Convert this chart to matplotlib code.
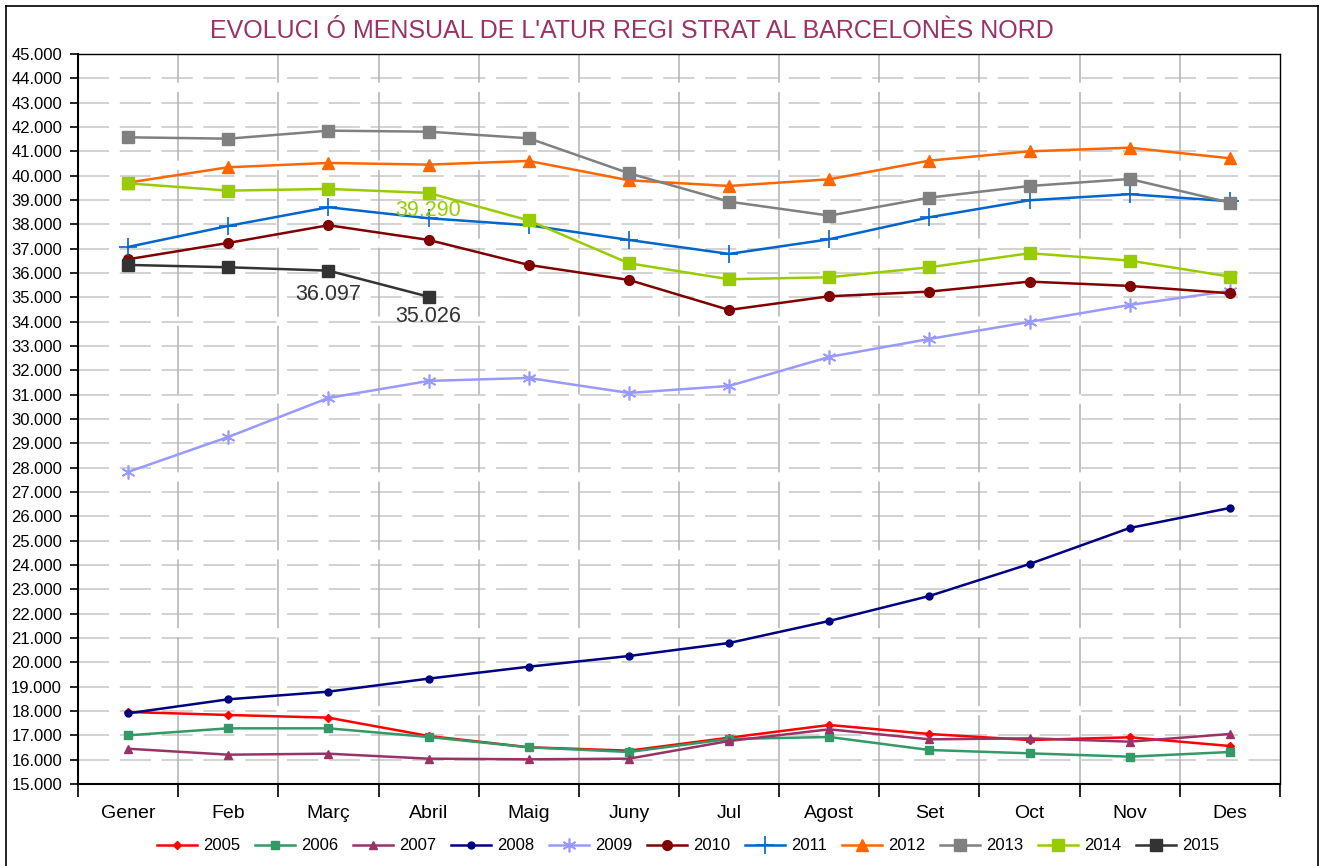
import matplotlib
matplotlib.use("Agg")
import matplotlib.pyplot as plt
from matplotlib.ticker import FixedLocator, FuncFormatter
from matplotlib.lines import Line2D

plt.rcParams['font.family'] = ['Liberation Sans', 'DejaVu Sans']

months = ["Gener", "Feb", "Març", "Abril", "Maig", "Juny",
          "Jul", "Agost", "Set", "Oct", "Nov", "Des"]

y2005 = [17960, 17836, 17726, 16973, 16510, 16370, 16903, 17425, 17055, 16808, 16919, 16562]
y2006 = [17000, 17288, 17288, 16932, 16508, 16315, 16850, 16932, 16397, 16260, 16123, 16315]
y2007 = [16450, 16205, 16245, 16041, 16014, 16041, 16767, 17247, 16836, 16877, 16740, 17055]
y2008 = [17905, 18480, 18795, 19330, 19820, 20260, 20795, 21700, 22727, 24042, 25522, 26344]
y2009 = [27824, 29262, 30865, 31564, 31687, 31070, 31358, 32550, 33290, 33990, 34687, 35263]
y2010 = [36565, 37236, 37963, 37359, 36332, 35715, 34482, 35044, 35235, 35646, 35469, 35168]
y2011 = [37071, 37934, 38702, 38250, 37963, 37359, 36784, 37387, 38291, 38990, 39237, 38949]
y2012 = [39714, 40345, 40523, 40454, 40605, 39810, 39576, 39851, 40618, 41000, 41150, 40714]
y2013 = [41577, 41520, 41849, 41808, 41536, 40100, 38933, 38358, 39098, 39576, 39864, 38892]
y2014 = [39686, 39385, 39455, 39290, 38160, 36400, 35743, 35825, 36236, 36812, 36510, 35851]
y2015 = [36332, 36236, 36097, 35026]

# year, values, colour, marker, marker size
series = [
    ("2005", y2005, "#FF0000", "D", 4.5),
    ("2006", y2006, "#339966", "s", 5.5),
    ("2007", y2007, "#993366", "^", 6),
    ("2008", y2008, "#000080", "o", 5),
    ("2009", y2009, "#9999FF", (6, 2, 0), 10),
    ("2010", y2010, "#800000", "o", 7),
    ("2011", y2011, "#0066CC", "+", 13),
    ("2012", y2012, "#FF6600", "^", 9),
    ("2013", y2013, "#808080", "s", 9),
    ("2014", y2014, "#99CC00", "s", 9),
    ("2015", y2015, "#333333", "s", 9),
]

fig = plt.figure(figsize=(13.21, 8.66), dpi=100)
ax = fig.add_axes([78/1321, 82/866, 1202/1321, 730/866])

# outer frame of the chart
for xs, ys in [([6/1321, 6/1321], [-0.01, 860/866]),
               ([6/1321, 1318/1321], [860/866, 860/866]),
               ([1318/1321, 1318/1321], [860/866, -0.01])]:
    fig.add_artist(Line2D(xs, ys, color="black", lw=1.2, transform=fig.transFigure))

ax.set_xlim(0, 12)
ax.set_ylim(15000, 45000)

# grid
for v in range(16000, 45000, 1000):
    ax.axhline(v, color="#D2D2D2", lw=1.4, dashes=(16, 5.5), zorder=0)
for i in range(1, 12):
    ax.axvline(i, color="#B2B2B2", lw=1.1, dashes=(45, 6), zorder=0)

handles = []
for name, vals, col, mk, ms in series:
    xs = [i + 0.5 for i in range(len(vals))]
    mew = 1.2 if mk in ("+", (6, 2, 0)) else 1
    h, = ax.plot(xs, vals, color=col, lw=1.8, marker=mk, markersize=ms,
                 markeredgewidth=mew, markeredgecolor=col, label=name, zorder=3)
    handles.append(h)

# data labels
ax.annotate("39.290", (3.5, y2014[3]), xytext=(0, -13), textcoords="offset points",
            ha="center", va="center", fontsize=15.5, color="#99CC00")
ax.annotate("36.097", (2.5, y2015[2]), xytext=(0, -17), textcoords="offset points",
            ha="center", va="center", fontsize=15.5, color="#333333")
ax.annotate("35.026", (3.5, y2015[3]), xytext=(0, -14), textcoords="offset points",
            ha="center", va="center", fontsize=15.5, color="#333333")

# axes and ticks
ax.xaxis.set_major_locator(FixedLocator(range(0, 13)))
ax.xaxis.set_minor_locator(FixedLocator([i + 0.5 for i in range(12)]))
ax.set_xticklabels([])
ax.set_xticklabels(months, minor=True)
ax.tick_params(axis="x", which="major", direction="out", length=9, width=1.2)
ax.tick_params(axis="x", which="minor", length=0, pad=15, labelsize=14)
ax.set_yticks(range(15000, 45001, 1000))
ax.yaxis.set_major_formatter(FuncFormatter(lambda v, p: f"{int(v):,}".replace(",", ".")))
ax.tick_params(axis="y", direction="out", length=6, width=1.2, labelsize=12, pad=5.5)
for s in ax.spines.values():
    s.set_linewidth(1.0)
ax.spines["bottom"].set_linewidth(1.5)
ax.spines["left"].set_linewidth(1.5)

fig.text(632/1321, 1 - 38/866, "EVOLUCI Ó MENSUAL DE L'ATUR REGI STRAT AL BARCELONÈS NORD",
         ha="center", va="baseline", fontsize=18, color="#993366")

fig.legend(handles=handles, loc="center", bbox_to_anchor=(688/1321, 1 - 846/866),
           ncol=11, frameon=False, fontsize=12, handlelength=2.4,
           handletextpad=0.35, columnspacing=0.9, borderaxespad=0)

fig.savefig("out.png", dpi=100)
